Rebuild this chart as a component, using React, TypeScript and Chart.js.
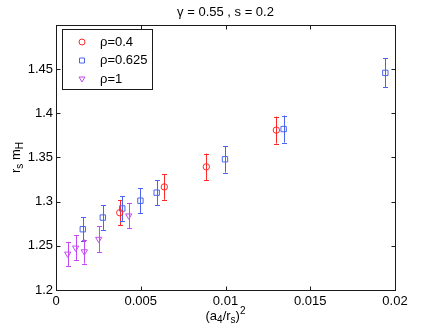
import React, { useEffect, useRef } from "react";
import { Chart, registerables } from "chart.js";
Chart.register(...registerables);

const titleText = "γ = 0.55 , s = 0.2";
const rho04Label = "ρ=0.4";
const rho04X = [0.00376, 0.00639, 0.00887, 0.013];
const rho04Y = [1.2875, 1.3167, 1.3394, 1.381];
const rho04Err = [0.014, 0.0145, 0.015, 0.0153];
const rho0625Label = "ρ=0.625";
const rho0625X = [0.00158, 0.00276, 0.00391, 0.00498, 0.00594, 0.00997, 0.01343, 0.01943];
const rho0625Y = [1.2688, 1.282, 1.2923, 1.3011, 1.3102, 1.348, 1.3822, 1.4458];
const rho0625Err = [0.0136, 0.014, 0.014, 0.014, 0.014, 0.015, 0.0153, 0.0163];
const rho1Label = "ρ=1";
const rho1X = [0.00069, 0.00116, 0.00167, 0.00252, 0.00429];
const rho1Y = [1.2409, 1.2477, 1.2435, 1.2576, 1.2841];
const rho1Err = [0.0137, 0.014, 0.0136, 0.0145, 0.014];
const xTicks = [0, 0.005, 0.01, 0.015, 0.02];
const xTickLabels = ["0", "0.005", "0.01", "0.015", "0.02"];
const yTicks = [1.2, 1.25, 1.3, 1.35, 1.4, 1.45];
const yTickLabels = ["1.2", "1.25", "1.3", "1.35", "1.4", "1.45"];

const RED = "rgb(255,40,40)";
const BLUE = "rgb(75,100,240)";
const PURPLE = "rgb(195,75,240)";
const FONT = '13px "Liberation Sans", Arial, sans-serif';
const SUBFONT = '10px "Liberation Sans", Arial, sans-serif';

function pts(xs: number[], ys: number[]) {
  return xs.map((x, i) => ({ x, y: ys[i] }));
}

export default function App() {
  const ref = useRef<HTMLCanvasElement | null>(null);
  useEffect(() => {
    document.body.style.margin = "0";
    const canvas = ref.current!;
    const errs = [rho04Err, rho0625Err, rho1Err];

    const custom = {
      id: "custom",
      beforeDatasetsDraw(chart: any) {
        const ctx = chart.ctx;
        const xs = chart.scales.x;
        const ys = chart.scales.y;
        chart.data.datasets.forEach((ds: any, di: number) => {
          ctx.save();
          ctx.strokeStyle = ds.borderColor;
          ctx.lineWidth = 1;
          ds.data.forEach((p: any, i: number) => {
            const e = errs[di][i];
            const px = Math.round(xs.getPixelForValue(p.x)) + 0.5;
            const y1 = ys.getPixelForValue(p.y + e);
            const y2 = ys.getPixelForValue(p.y - e);
            ctx.beginPath();
            ctx.moveTo(px, y1);
            ctx.lineTo(px, y2);
            ctx.moveTo(px - 2.5, Math.round(y1) + 0.5);
            ctx.lineTo(px + 2.5, Math.round(y1) + 0.5);
            ctx.moveTo(px - 2.5, Math.round(y2) + 0.5);
            ctx.lineTo(px + 2.5, Math.round(y2) + 0.5);
            ctx.stroke();
          });
          ctx.restore();
        });
      },
      afterDraw(chart: any) {
        const ctx = chart.ctx;
        const a = chart.chartArea;
        const xs = chart.scales.x;
        const ys = chart.scales.y;
        ctx.save();
        ctx.strokeStyle = "#1a1a1a";
        ctx.lineWidth = 1;
        const L = Math.round(a.left) + 0.5;
        const R = Math.round(a.right) + 0.5;
        const T = Math.round(a.top) + 0.5;
        const B = Math.round(a.bottom) + 0.5;
        ctx.strokeRect(L, T, R - L, B - T);
        ctx.beginPath();
        xTicks.forEach((v) => {
          const px = Math.round(xs.getPixelForValue(v)) + 0.5;
          ctx.moveTo(px, B);
          ctx.lineTo(px, B - 4);
          ctx.moveTo(px, T);
          ctx.lineTo(px, T + 4);
        });
        yTicks.forEach((v) => {
          const py = Math.round(ys.getPixelForValue(v)) + 0.5;
          ctx.moveTo(L, py);
          ctx.lineTo(L + 4, py);
          ctx.moveTo(R, py);
          ctx.lineTo(R - 4, py);
        });
        ctx.stroke();

        ctx.fillStyle = "#000";
        ctx.font = FONT;
        ctx.textAlign = "center";
        ctx.textBaseline = "middle";
        xTicks.forEach((v, i) => {
          ctx.fillText(xTickLabels[i], xs.getPixelForValue(v), a.bottom + 11);
        });
        ctx.textAlign = "right";
        yTicks.forEach((v, i) => {
          ctx.fillText(yTickLabels[i], a.left - 3, ys.getPixelForValue(v));
        });

        // title
        ctx.textAlign = "center";
        ctx.fillText(titleText, (a.left + a.right) / 2, 12);

        // rich text helper
        const drawRich = (parts: { t: string; k: "n" | "sub" | "sup" }[], cx: number, base: number) => {
          const widths = parts.map((p) => {
            ctx.font = p.k === "n" ? FONT : SUBFONT;
            return ctx.measureText(p.t).width;
          });
          const total = widths.reduce((s, w) => s + w, 0);
          let x = cx - total / 2;
          ctx.textAlign = "left";
          ctx.textBaseline = "alphabetic";
          parts.forEach((p, i) => {
            ctx.font = p.k === "n" ? FONT : SUBFONT;
            const dy = p.k === "sub" ? 3 : p.k === "sup" ? -6 : 0;
            ctx.fillText(p.t, x, base + dy);
            x += widths[i];
          });
        };

        // x axis title
        drawRich(
          [
            { t: "(a", k: "n" },
            { t: "4", k: "sub" },
            { t: "/r", k: "n" },
            { t: "s", k: "sub" },
            { t: ")", k: "n" },
            { t: "2", k: "sup" },
          ],
          (a.left + a.right) / 2,
          320
        );

        // y axis title
        ctx.save();
        ctx.translate(20, (a.top + a.bottom) / 2);
        ctx.rotate(-Math.PI / 2);
        drawRich(
          [
            { t: "r", k: "n" },
            { t: "s", k: "sub" },
            { t: " m", k: "n" },
            { t: "H", k: "sub" },
          ],
          0,
          0
        );
        ctx.restore();

        // legend
        const lx = 62, ly = 29, lw = 90, lh = 60;
        ctx.fillStyle = "#fff";
        ctx.fillRect(lx, ly, lw, lh);
        ctx.strokeStyle = "#1a1a1a";
        ctx.strokeRect(lx + 0.5, ly + 0.5, lw, lh);
        const rows = [42, 60.5, 79];
        const labels = [rho04Label, rho0625Label, rho1Label];
        chart.data.datasets.forEach((ds: any, i: number) => {
          const my = rows[i];
          ctx.strokeStyle = ds.borderColor;
          ctx.lineWidth = 1;
          ctx.beginPath();
          if (i === 0) {
            ctx.arc(82, my, 3, 0, Math.PI * 2);
          } else if (i === 1) {
            ctx.rect(79.5, my - 2.5, 5, 5);
          } else {
            ctx.moveTo(79, my - 2);
            ctx.lineTo(85, my - 2);
            ctx.lineTo(82, my + 3);
            ctx.closePath();
          }
          ctx.stroke();
          ctx.fillStyle = "#000";
          ctx.font = FONT;
          ctx.textAlign = "left";
          ctx.textBaseline = "middle";
          ctx.fillText(labels[i], 100, my);
        });
        ctx.restore();
      },
    };

    const chart = new Chart(canvas, {
      type: "scatter",
      data: {
        datasets: [
          {
            label: rho04Label,
            data: pts(rho04X, rho04Y),
            borderColor: RED,
            backgroundColor: "rgba(0,0,0,0)",
            pointStyle: "circle",
            pointRadius: 3.2,
            pointBorderWidth: 1,
          },
          {
            label: rho0625Label,
            data: pts(rho0625X, rho0625Y),
            borderColor: BLUE,
            backgroundColor: "rgba(0,0,0,0)",
            pointStyle: "rect",
            pointRadius: 3.8,
            pointBorderWidth: 1,
          },
          {
            label: rho1Label,
            data: pts(rho1X, rho1Y),
            borderColor: PURPLE,
            backgroundColor: "rgba(0,0,0,0)",
            pointStyle: "triangle",
            rotation: 180,
            pointRadius: 3.6,
            pointBorderWidth: 1,
          },
        ],
      },
      options: {
        responsive: false,
        animation: false,
        devicePixelRatio: 1,
        layout: { padding: { left: 0, right: 41, top: 25, bottom: 0 } },
        plugins: { legend: { display: false }, title: { display: false }, tooltip: { enabled: false } },
        scales: {
          x: {
            type: "linear",
            min: 0,
            max: 0.02,
            grid: { display: false },
            border: { display: false },
            ticks: { display: false },
            afterFit: (s: any) => {
              s.height = 38;
            },
          },
          y: {
            type: "linear",
            min: 1.2,
            max: 1.5,
            grid: { display: false },
            border: { display: false },
            ticks: { display: false },
            afterFit: (s: any) => {
              s.width = 56;
            },
          },
        },
      },
      plugins: [custom],
    } as any);
    return () => chart.destroy();
  }, []);
  return (
    <div style={{ width: 436, height: 328, background: "#fff" }}>
      <canvas ref={ref} width={436} height={328} style={{ display: "block" }} />
    </div>
  );
}
